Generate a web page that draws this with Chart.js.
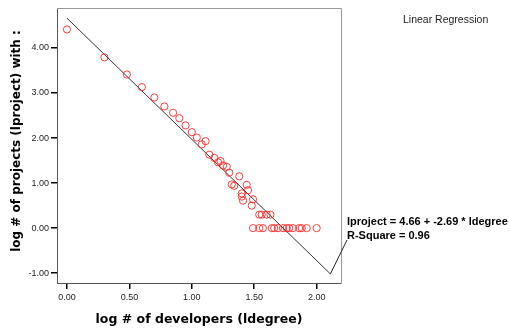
<!DOCTYPE html>
<html>
<head>
<meta charset="utf-8">
<script src="https://cdn.jsdelivr.net/npm/chart.js@4/dist/chart.umd.min.js"></script>
<style>
  html, body { margin: 0; padding: 0; background: #fff; }
</style>
</head>
<body>
<canvas id="mycanvas" width="510" height="330"></canvas>
<script>
// observed points: log # of developers vs log # of projects
var ldegree = [0.00, 0.30, 0.48, 0.60, 0.70, 0.78, 0.85, 0.90, 0.95, 1.00,
               1.04, 1.08, 1.11, 1.14, 1.18, 1.21, 1.23, 1.25, 1.28, 1.30,
               1.38, 1.32, 1.34, 1.44, 1.45, 1.40, 1.40, 1.41, 1.48, 1.49,
               1.54, 1.56, 1.60, 1.63,
               1.49, 1.54, 1.57, 1.64, 1.66, 1.69, 1.73, 1.76, 1.78, 1.81,
               1.86, 1.88, 1.92, 2.00];
var lproject = [4.41, 3.79, 3.41, 3.13, 2.90, 2.70, 2.56, 2.44, 2.28, 2.13,
                2.01, 1.86, 1.93, 1.63, 1.56, 1.46, 1.49, 1.39, 1.36, 1.23,
                1.15, 0.97, 0.94, 0.96, 0.84, 0.77, 0.70, 0.61, 0.50, 0.64,
                0.30, 0.30, 0.30, 0.30,
                0, 0, 0, 0, 0, 0, 0, 0, 0, 0,
                0, 0, 0, 0];

// fitted line
var intercept = 4.66;
var slope = -2.69;
var fitRange = [0.00, 2.11];

var xTickValues = [0, 0.5, 1, 1.5, 2];
var yTickValues = [-1, 0, 1, 2, 3, 4];

var xTitle = 'log # of developers (ldegree)';
var yTitle = 'log # of projects (lproject) with :';
var eqLines = ["lproject = 4.66 + -2.69 * ldegree", "R-Square = 0.96"];
var legendTitle = "Linear Regression";

var points = [];
for (var i in ldegree) {
	points.push({x: ldegree[i], y: lproject[i]});
}
var fitPoints = fitRange.map(function(x){ return {x: x, y: intercept + slope * x}; });

var extras = {
	id: 'extras',
	afterDraw: function(chart) {
		var ctx = chart.ctx;
		var a = chart.chartArea;
		var xs = chart.scales.x, ys = chart.scales.y;
		ctx.save();
		// frame top / right
		ctx.strokeStyle = '#999';
		ctx.lineWidth = 1;
		ctx.beginPath();
		ctx.moveTo(a.left, a.top + 0.5);
		ctx.lineTo(a.right + 0.5, a.top + 0.5);
		ctx.lineTo(a.right + 0.5, a.bottom);
		ctx.stroke();
		// leader from end of fit line to the equation
		var ex = xs.getPixelForValue(fitPoints[1].x);
		var ey = ys.getPixelForValue(fitPoints[1].y);
		ctx.strokeStyle = '#222';
		ctx.beginPath();
		ctx.moveTo(ex, ey);
		ctx.lineTo(347, 240);
		ctx.stroke();
		// y axis title (sits a little above the plot centre in the original)
		ctx.save();
		ctx.translate(16.5, 141);
		ctx.rotate(-Math.PI / 2);
		ctx.fillStyle = '#000';
		ctx.font = 'bold 12px "DejaVu Sans", Verdana, sans-serif';
		ctx.textAlign = 'center';
		ctx.textBaseline = 'middle';
		ctx.fillText(yTitle, 0, 0);
		ctx.restore();
		// equation text
		ctx.fillStyle = '#000';
		ctx.font = 'bold 11px "Liberation Sans", Arial, sans-serif';
		ctx.textBaseline = 'middle';
		ctx.textAlign = 'left';
		ctx.fillText(eqLines[0], 347, 222);
		ctx.fillText(eqLines[1], 347, 236);
		// legend title
		ctx.fillStyle = '#222';
		ctx.font = '10.5px "Liberation Sans", Arial, sans-serif';
		ctx.fillText(legendTitle, 403, 20);
		ctx.restore();
	}
};

var ctx = document.getElementById('mycanvas');
var chart = new Chart(ctx, {
	type: 'scatter',
	data: {
		datasets: [
			{
				label: 'observed',
				data: points,
				pointStyle: 'circle',
				pointRadius: 3.6,
				pointBorderWidth: 1,
				pointBorderColor: 'rgba(255, 30, 30, 0.85)',
				pointBackgroundColor: 'rgba(0,0,0,0)',
				showLine: false
			},
			{
				label: 'linear',
				data: fitPoints,
				showLine: true,
				pointRadius: 0,
				borderColor: '#333',
				borderWidth: 1,
				fill: false
			}
		]
	},
	options: {
		responsive: false,
		animation: false,
		events: [],
		layout: { padding: { left: 0, top: 8, right: 169, bottom: 0 } },
		plugins: { legend: { display: false }, tooltip: { enabled: false } },
		scales: {
			x: {
				type: 'linear',
				min: -0.08,
				max: 2.195,
				afterFit: function(s){ s.height = 47; },
				afterBuildTicks: function(s){ s.ticks = xTickValues.map(function(v){ return {value: v}; }); },
				grid: { drawOnChartArea: false, drawTicks: true, tickLength: 6, color: '#000', lineWidth: 1.5 },
				border: { display: true, color: '#555', width: 1 },
				ticks: {
					padding: 3,
					color: '#222',
					maxRotation: 0,
					font: { family: '"Liberation Sans", Arial, sans-serif', size: 9 },
					callback: function(v){ return Number(v).toFixed(2); }
				},
				title: {
					display: true,
					text: xTitle,
					color: '#000',
					padding: { top: 0, bottom: 3 },
					font: { family: '"DejaVu Sans", Verdana, sans-serif', size: 12.5, weight: 'bold' }
				}
			},
			y: {
				type: 'linear',
				min: -1.218,
				max: 4.886,
				afterFit: function(s){ s.width = 57; },
				afterBuildTicks: function(s){ s.ticks = yTickValues.map(function(v){ return {value: v}; }); },
				grid: { drawOnChartArea: false, drawTicks: true, tickLength: 6, color: '#000', lineWidth: 1.5 },
				border: { display: true, color: '#555', width: 1 },
				ticks: {
					padding: 2,
					color: '#222',
					font: { family: '"Liberation Sans", Arial, sans-serif', size: 9 },
					callback: function(v){ return Number(v).toFixed(2); }
				},
				title: { display: false }
			}
		}
	},
	plugins: [extras]
});
</script>
</body>
</html>
